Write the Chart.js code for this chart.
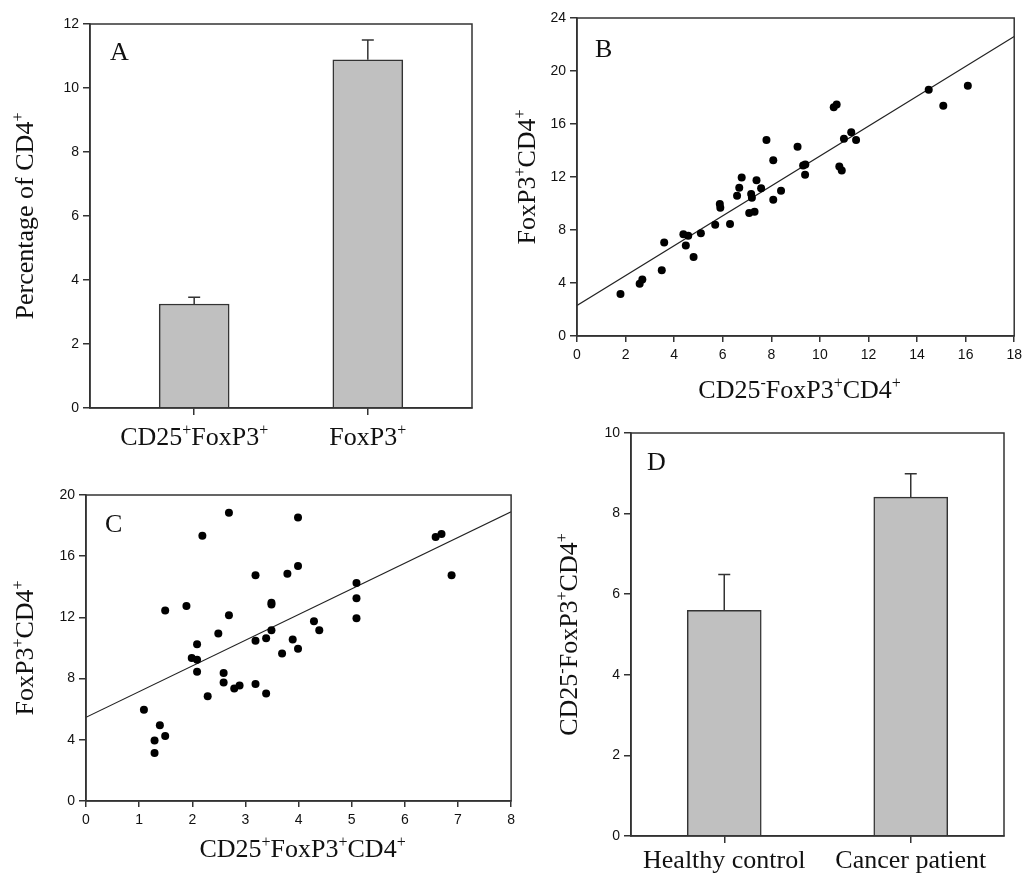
<!DOCTYPE html>
<html>
<head>
<meta charset="utf-8">
<script src="https://cdn.jsdelivr.net/npm/chart.js@4"></script>
<style>
  body { margin: 0; background: #fff; width: 1027px; height: 876px; position: relative; overflow: hidden; }
  canvas { position: absolute; }
</style>
</head>
<body>
<canvas id="chartA" width="500" height="460" style="left:0;top:0"></canvas>
<canvas id="chartB" width="527" height="420" style="left:500px;top:0"></canvas>
<canvas id="chartC" width="520" height="436" style="left:0;top:440px"></canvas>
<canvas id="chartD" width="507" height="456" style="left:520px;top:420px"></canvas>
<script>
// panel A - bars
const aCats = ['CD25^+FoxP3^+', 'FoxP3^+'];
const aMeans = [3.25, 10.88];
const aErr = [0.21, 0.62];

// panel B - scatter
const bX = [1.79, 2.58, 2.69, 3.49, 3.59, 4.38, 4.58, 4.48, 4.80, 5.10, 5.69, 5.88, 5.90, 6.30, 6.59,
  6.68, 6.78, 7.17, 7.20, 7.09, 7.31, 7.39, 7.58, 7.80, 8.08, 8.08, 8.40, 9.08, 9.31, 9.40,
  9.39, 10.80, 10.90, 10.99, 11.29, 11.49, 10.57, 10.69, 14.48, 15.08, 16.09];
const bY = [3.17, 3.95, 4.26, 4.96, 7.05, 7.68, 7.56, 6.83, 5.97, 7.76, 8.39, 9.97, 9.67, 8.46, 10.58,
  11.18, 11.96, 10.71, 10.43, 9.29, 9.37, 11.76, 11.16, 14.79, 13.27, 10.28, 10.96, 14.28, 12.87, 12.95,
  12.17, 12.80, 12.49, 14.89, 15.37, 14.79, 17.27, 17.47, 18.58, 17.37, 18.88];
const bFitX = [0, 18];
const bFitY = [2.3, 22.6];

// panel C - scatter
const cX = [1.09, 1.39, 1.29, 1.29, 1.49, 1.49, 1.89, 2.19, 2.09, 1.99, 2.09, 2.09, 2.29, 2.49, 2.59,
  2.59, 2.69, 2.69, 2.79, 2.89, 3.19, 3.19, 3.19, 3.39, 3.39, 3.49, 3.49, 3.49, 3.69, 3.79,
  3.89, 3.99, 3.99, 3.99, 4.29, 4.39, 5.09, 5.09, 5.09, 6.58, 6.69, 6.88];
const cY = [5.97, 4.95, 3.95, 3.14, 4.25, 12.45, 12.75, 17.34, 10.25, 9.34, 9.23, 8.45, 6.84, 10.95, 8.36,
  7.75, 18.84, 12.14, 7.36, 7.55, 14.75, 10.47, 7.64, 10.64, 7.03, 12.95, 12.84, 11.16, 9.64, 14.86,
  10.55, 18.53, 15.36, 9.95, 11.75, 11.16, 14.25, 13.25, 11.95, 17.25, 17.45, 14.75];
const cFitX = [0, 8];
const cFitY = [5.47, 18.9];

// panel D - bars
const dCats = ['Healthy control', 'Cancer patient'];
const dMeans = [5.6, 8.41];
const dErr = [0.89, 0.58];

const AXIS = '#333';
const SERIF = '"Liberation Serif", "Times New Roman", serif';
const tickFont = { family: '"Liberation Sans", Arial, sans-serif', size: 14 };

// draws text where "^x" means superscript x
function drawRich(ctx, str, x, y, size, rotate) {
  const parts = [];
  for (let i = 0; i < str.length; i++) {
    if (str[i] === '^') { parts.push({ t: str[i + 1], sup: true }); i++; }
    else if (parts.length && !parts[parts.length - 1].sup) parts[parts.length - 1].t += str[i];
    else parts.push({ t: str[i], sup: false });
  }
  const supSize = Math.round(size * 0.62);
  let total = 0;
  parts.forEach(p => {
    ctx.font = (p.sup ? supSize : size) + 'px ' + SERIF;
    p.w = ctx.measureText(p.t).width;
    total += p.w;
  });
  ctx.save();
  ctx.translate(x, y);
  if (rotate) ctx.rotate(-Math.PI / 2);
  ctx.fillStyle = '#111';
  ctx.textBaseline = 'alphabetic';
  ctx.textAlign = 'left';
  let cx = -total / 2;
  parts.forEach(p => {
    ctx.font = (p.sup ? supSize : size) + 'px ' + SERIF;
    ctx.fillText(p.t, cx, p.sup ? -size * 0.4 : 0);
    cx += p.w;
  });
  ctx.restore();
}

const frame = {
  id: 'frame',
  afterDraw(chart) {
    const a = chart.chartArea, ctx = chart.ctx;
    ctx.save();
    ctx.strokeStyle = AXIS;
    ctx.lineWidth = 1.5;
    ctx.strokeRect(a.left, a.top, a.right - a.left, a.bottom - a.top);
    ctx.restore();
  }
};

function errBars(errs) {
  return {
    id: 'errBars',
    afterDatasetsDraw(chart) {
      const ctx = chart.ctx, ys = chart.scales.y;
      const ds = chart.data.datasets[0];
      chart.getDatasetMeta(0).data.forEach((bar, i) => {
        const v = typeof ds.data[i] === 'object' ? ds.data[i].y : ds.data[i];
        const top = ys.getPixelForValue(v + errs[i]);
        ctx.save();
        ctx.strokeStyle = AXIS;
        ctx.lineWidth = 1.5;
        ctx.beginPath();
        ctx.moveTo(bar.x, bar.y);
        ctx.lineTo(bar.x, top);
        ctx.moveTo(bar.x - 6, top);
        ctx.lineTo(bar.x + 6, top);
        ctx.stroke();
        ctx.restore();
      });
    }
  };
}

function texts(o) {
  return {
    id: 'texts',
    afterDraw(chart) {
      const ctx = chart.ctx, a = chart.chartArea;
      ctx.save();
      ctx.font = '26px ' + SERIF;
      ctx.fillStyle = '#111';
      ctx.fillText(o.letter, a.left + o.lx, a.top + o.ly);
      ctx.restore();
      drawRich(ctx, o.yTitle, o.yx, (a.top + a.bottom) / 2, 26, true);
      if (o.xTitle) drawRich(ctx, o.xTitle, (a.left + a.right) / 2 + 4, o.xy, 26, false);
      if (o.cats) {
        o.cats.forEach((c, i) => {
          drawRich(ctx, c, chart.scales.x.getPixelForValue(i), o.cy, 26, false);
        });
      }
    }
  };
}

function yAxis(min, max, step, width) {
  return {
    min: min, max: max,
    ticks: { stepSize: step, font: tickFont, color: '#111', padding: 4 },
    grid: { drawOnChartArea: false, tickLength: 7, color: AXIS, lineWidth: 1.5 },
    border: { color: AXIS, width: 1.5 },
    afterFit(s) { s.width = width; }
  };
}

function xAxis(min, max, step, height) {
  return {
    type: 'linear', min: min, max: max,
    ticks: { stepSize: step, font: tickFont, color: '#111', padding: 5, maxRotation: 0 },
    grid: { drawOnChartArea: false, tickLength: 6, color: AXIS, lineWidth: 1.5 },
    border: { color: AXIS, width: 1.5 },
    afterFit(s) { s.height = height; }
  };
}

const noPlugins = { legend: { display: false }, tooltip: { enabled: false } };

// A
new Chart(document.getElementById('chartA'), {
  type: 'bar',
  data: {
    datasets: [{
      data: aMeans.map((v, i) => ({ x: i, y: v })),
      backgroundColor: '#c0c0c0', borderColor: AXIS, borderWidth: 1.5, barThickness: 70
    }]
  },
  options: {
    responsive: false, animation: false,
    layout: { padding: { left: 0, top: 24, right: 28, bottom: 0 } },
    plugins: noPlugins,
    scales: {
      x: {
        type: 'linear', min: -0.6, max: 1.6, offset: false,
        afterBuildTicks(s) { s.ticks = [{ value: 0 }, { value: 1 }]; },
        ticks: { display: false },
        grid: { offset: false, drawOnChartArea: false, tickLength: 7, color: AXIS, lineWidth: 1.5 },
        border: { color: AXIS, width: 1.5 },
        afterFit(s) { s.height = 52; }
      },
      y: yAxis(0, 12, 2, 90)
    }
  },
  plugins: [frame, errBars(aErr), texts({ letter: 'A', lx: 20, ly: 36, yTitle: 'Percentage of CD4^+', yx: 33, cats: aCats, cy: 445 })]
});

// B
new Chart(document.getElementById('chartB'), {
  type: 'scatter',
  data: {
    datasets: [
      { data: bX.map((x, i) => ({ x: x, y: bY[i] })), pointRadius: 4, backgroundColor: '#000', borderWidth: 0 },
      { data: bFitX.map((x, i) => ({ x: x, y: bFitY[i] })), showLine: true, pointRadius: 0, borderColor: '#222', borderWidth: 1.2 }
    ]
  },
  options: {
    responsive: false, animation: false,
    layout: { padding: { left: 0, top: 18, right: 9, bottom: 0 } },
    plugins: noPlugins,
    scales: { x: xAxis(0, 18, 2, 84), y: yAxis(0, 24, 4, 77) }
  },
  plugins: [frame, texts({ letter: 'B', lx: 18, ly: 39, yTitle: 'FoxP3^+CD4^+', yx: 35, xTitle: 'CD25^-FoxP3^+CD4^+', xy: 398 })]
});

// C
new Chart(document.getElementById('chartC'), {
  type: 'scatter',
  data: {
    datasets: [
      { data: cX.map((x, i) => ({ x: x, y: cY[i] })), pointRadius: 4, backgroundColor: '#000', borderWidth: 0 },
      { data: cFitX.map((x, i) => ({ x: x, y: cFitY[i] })), showLine: true, pointRadius: 0, borderColor: '#222', borderWidth: 1.2 }
    ]
  },
  options: {
    responsive: false, animation: false,
    layout: { padding: { left: 0, top: 55, right: 8, bottom: 0 } },
    plugins: noPlugins,
    scales: { x: xAxis(0, 8, 1, 75), y: yAxis(0, 20, 4, 86) }
  },
  plugins: [frame, texts({ letter: 'C', lx: 19, ly: 37, yTitle: 'FoxP3^+CD4^+', yx: 33, xTitle: 'CD25^+FoxP3^+CD4^+', xy: 417 })]
});

// D
new Chart(document.getElementById('chartD'), {
  type: 'bar',
  data: {
    labels: dCats,
    datasets: [{ data: dMeans, backgroundColor: '#c0c0c0', borderColor: AXIS, borderWidth: 1.5, barThickness: 74 }]
  },
  options: {
    responsive: false, animation: false,
    layout: { padding: { left: 0, top: 13, right: 23, bottom: 0 } },
    plugins: noPlugins,
    scales: {
      x: {
        offset: true,
        ticks: { display: false },
        grid: { offset: false, drawOnChartArea: false, tickLength: 7, color: AXIS, lineWidth: 1.5 },
        border: { color: AXIS, width: 1.5 },
        afterFit(s) { s.height = 40; }
      },
      y: yAxis(0, 10, 2, 111)
    }
  },
  plugins: [frame, errBars(dErr), texts({ letter: 'D', lx: 16, ly: 37, yTitle: 'CD25^-FoxP3^+CD4^+', yx: 57, cats: dCats, cy: 448 })]
});
</script>
</body>
</html>
